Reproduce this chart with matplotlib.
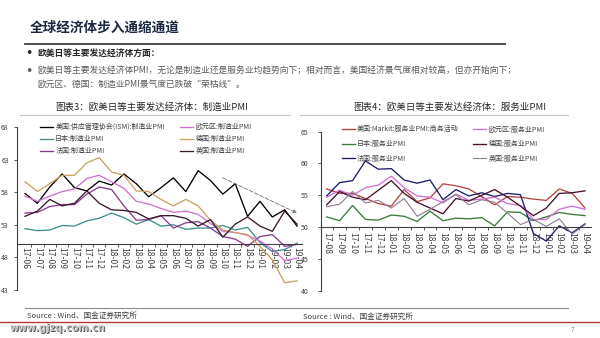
import matplotlib.pyplot as plt
from matplotlib.lines import Line2D

plt.rcParams['font.family'] = ['Noto Sans CJK SC', 'DejaVu Sans']

# 制造业PMI  17-06 ~ 19-04
mfg_months = ['17-06', '17-07', '17-08', '17-09', '17-10', '17-11', '17-12',
              '18-01', '18-02', '18-03', '18-04', '18-05', '18-06', '18-07',
              '18-08', '18-09', '18-10', '18-11', '18-12',
              '19-01', '19-02', '19-03', '19-04']
us_ism = [57.8, 56.3, 58.8, 60.8, 58.7, 58.2, 59.7, 59.1, 60.8, 59.3, 57.3, 58.7,
          60.2, 58.1, 61.3, 59.8, 57.7, 59.3, 54.3, 56.6, 54.2, 55.3, 52.8]
ez_mfg = [57.4, 56.6, 57.4, 58.1, 58.5, 60.1, 60.6, 59.6, 58.6, 56.6, 56.2, 55.5,
          54.9, 55.1, 54.6, 53.2, 52.0, 51.8, 51.4, 50.5, 49.3, 47.5, 47.9]
jp_mfg = [52.4, 52.1, 52.2, 52.9, 52.8, 53.6, 54.0, 54.8, 54.1, 53.1, 53.8, 52.8,
          53.0, 52.3, 52.5, 52.5, 52.9, 52.2, 52.6, 50.3, 48.9, 49.2, 50.2]
de_mfg = [59.6, 58.1, 59.3, 60.6, 60.6, 62.5, 63.3, 61.1, 60.6, 58.2, 58.1, 56.9,
          55.9, 56.9, 55.9, 53.7, 52.2, 51.8, 51.5, 49.7, 47.6, 44.1, 44.4]
fr_mfg = [54.8, 54.9, 55.8, 56.1, 56.1, 57.7, 58.8, 58.4, 55.9, 53.7, 53.8, 54.4,
          52.5, 53.3, 53.5, 52.5, 51.2, 50.8, 49.7, 51.2, 51.5, 49.7, 50.0]
uk_mfg = [54.3, 55.1, 56.9, 55.9, 56.3, 58.2, 56.3, 55.3, 55.2, 54.9, 53.9, 54.4,
          54.4, 54.0, 52.8, 53.8, 51.1, 53.1, 54.2, 52.8, 52.0, 55.1, 53.1]
mfg_trend_x = [16, 22]
mfg_trend_y = [60.2, 54.8]

# 服务业PMI  17-08 ~ 19-04
srv_months = ['17-08', '17-09', '17-10', '17-11', '17-12',
              '18-01', '18-02', '18-03', '18-04', '18-05', '18-06', '18-07',
              '18-08', '18-09', '18-10', '18-11', '18-12',
              '19-01', '19-02', '19-03', '19-04']
us_srv = [56.0, 55.3, 55.3, 54.5, 53.7, 53.3, 55.9, 54.0, 54.6, 56.8, 56.5, 56.0,
          54.8, 53.5, 54.8, 54.7, 54.4, 54.2, 56.0, 55.3, 53.0]
ez_srv = [54.7, 55.8, 55.0, 56.2, 56.6, 58.0, 56.2, 54.9, 54.7, 53.8, 55.2, 54.2,
          54.4, 54.7, 53.7, 53.4, 51.2, 51.2, 52.8, 53.3, 52.8]
jp_srv = [51.6, 51.0, 53.4, 51.2, 51.1, 51.9, 51.7, 50.9, 52.5, 51.0, 51.4, 51.3,
          51.5, 50.2, 52.4, 52.3, 51.0, 51.6, 52.3, 52.0, 51.8]
de_srv = [53.5, 55.6, 54.7, 54.3, 55.8, 57.3, 55.3, 53.9, 53.0, 52.1, 54.5, 54.1,
          55.0, 55.9, 54.7, 53.3, 51.8, 53.0, 55.3, 55.4, 55.7]
fr_srv = [54.9, 57.0, 57.3, 60.4, 59.1, 59.2, 57.4, 56.9, 57.4, 54.3, 55.9, 54.9,
          55.4, 54.8, 55.3, 55.1, 49.0, 47.8, 50.2, 49.1, 50.5]
uk_srv = [53.2, 53.6, 55.6, 53.8, 54.2, 53.0, 54.5, 51.7, 52.8, 54.0, 55.1, 53.5,
          54.3, 53.9, 52.2, 50.4, 51.2, 50.1, 51.3, 48.9, 50.4]

W, H = 600, 338
fig = plt.figure(figsize=(6, 3.38), dpi=100)


def fx(px):
    return px / W


def fy(py):
    return 1 - py / H


# 页面标题和要点
fig.text(fx(30), fy(28), '全球经济体步入通缩通道', fontsize=9.8, fontweight='bold',
         color='#1c2740', va='center')
fig.add_artist(Line2D([fx(25), fx(505)], [fy(44), fy(44)], color='#404040', lw=1.3))
fig.text(fx(25), fy(54), '•', fontsize=9, color='#262626', va='center',
         family='DejaVu Sans')
fig.text(fx(37), fy(54), '欧美日等主要发达经济体方面：', fontsize=6.3,
         fontweight='bold', color='#262626', va='center')
fig.text(fx(25), fy(71), '•', fontsize=9, color='#595959', va='center',
         family='DejaVu Sans')
fig.text(fx(37), fy(71),
         '欧美日等主要发达经济体PMI，无论是制造业还是服务业均趋势向下；相对而言，'
         '美国经济景气度相对较高，但亦开始向下；',
         fontsize=6.3, color='#595959', va='center')
fig.text(fx(37), fy(84), '欧元区、德国：制造业PMI景气度已跌破“荣枯线”。',
         fontsize=6.3, color='#595959', va='center')

# 图表标题
fig.text(fx(152), fy(107), '图表3：欧美日等主要发达经济体：制造业PMI', fontsize=6.8,
         color='#262626', ha='center', va='center')
fig.text(fx(450), fy(107), '图表4：欧美日等主要发达经济体：服务业PMI', fontsize=6.8,
         color='#262626', ha='center', va='center')
fig.add_artist(Line2D([fx(20), fx(290)], [fy(115), fy(115)], color='#c8c8c8', lw=0.8))
fig.add_artist(Line2D([fx(300), fx(568)], [fy(115), fy(115)], color='#c8c8c8', lw=0.8))


def style_axes(ax, months, ylo, yhi, yticks, lab_pad, ylab_pad):
    ax.set_ylim(ylo, yhi)
    ax.set_yticks(yticks)
    ax.set_xticks(range(len(months)))
    ax.set_xticklabels(months)
    ax.set_xticks([i + 0.5 for i in range(len(months) - 1)], minor=True)
    ax.tick_params(axis='x', which='major', length=0, pad=lab_pad, labelrotation=-90,
                   labelsize=6.2, labelcolor='#404040')
    ax.tick_params(axis='x', which='minor', length=2, width=0.6, color='#404040',
                   direction='out')
    ax.tick_params(axis='y', length=2, width=0.6, color='#404040', pad=ylab_pad,
                   labelsize=5, labelcolor='#404040')
    for s in ['top', 'right']:
        ax.spines[s].set_visible(False)
    ax.spines['bottom'].set_position(('data', 50))
    ax.spines['bottom'].set_color('#404040')
    ax.spines['bottom'].set_linewidth(0.8)
    ax.spines['left'].set_color('#404040')
    ax.spines['left'].set_linewidth(0.8)
    ax.set_facecolor('none')


def add_legends(ax, handles, labels, x1, x2, ytop, spacing):
    kw = dict(loc='upper left', bbox_transform=fig.transFigure, frameon=False,
              fontsize=5, handlelength=1.9, handletextpad=0.3, borderpad=0,
              borderaxespad=0, labelspacing=spacing, labelcolor='#404040')
    leg1 = ax.legend(handles[:3], labels[:3], bbox_to_anchor=(fx(x1), fy(ytop)), **kw)
    ax.add_artist(leg1)
    ax.legend(handles[3:], labels[3:], bbox_to_anchor=(fx(x2), fy(ytop)), **kw)


# 图表3：制造业
ax1 = fig.add_axes([fx(17), fy(290), fx(302) - fx(17), fy(127) - fy(290)])
xm = range(len(mfg_months))
lw = 0.95
h_us, = ax1.plot(xm, us_ism, color='#000000', lw=lw)
h_jp, = ax1.plot(xm, jp_mfg, color='#3f8f8c', lw=lw)
h_fr, = ax1.plot(xm, fr_mfg, color='#8a3a8e', lw=lw)
h_ez, = ax1.plot(xm, ez_mfg, color='#d270d2', lw=lw)
h_de, = ax1.plot(xm, de_mfg, color='#c9a264', lw=lw)
h_uk, = ax1.plot(xm, uk_mfg, color='#3a1a2a', lw=lw)
ax1.annotate('', xy=(mfg_trend_x[1], mfg_trend_y[1]),
             xytext=(mfg_trend_x[0], mfg_trend_y[0]),
             arrowprops=dict(arrowstyle='-|>', linestyle=(0, (4, 2)), color='#7f7f7f',
                             lw=0.7, mutation_scale=5, shrinkA=0, shrinkB=0))
ax1.set_xlim(-0.65, 22.4)
style_axes(ax1, mfg_months, 43, 68, [43, 48, 53, 58, 63, 68], 2, 4)
add_legends(ax1, [h_us, h_jp, h_fr, h_ez, h_de, h_uk],
            ['美国:供应管理协会(ISM):制造业PMI', '日本:制造业PMI', '法国:制造业PMI',
             '欧元区:制造业PMI', '德国:制造业PMI', '英国:制造业PMI'],
            40, 180, 123, 0.6)

# 图表4：服务业
ax2 = fig.add_axes([fx(321), fy(290.7), fx(591) - fx(321), fy(131.7) - fy(290.7)])
xs = range(len(srv_months))
g_us, = ax2.plot(xs, us_srv, color='#b8443f', lw=lw)
g_jp, = ax2.plot(xs, jp_srv, color='#3a7a3a', lw=lw)
g_fr, = ax2.plot(xs, fr_srv, color='#1c1c6e', lw=lw)
g_ez, = ax2.plot(xs, ez_srv, color='#d270d2', lw=lw)
g_de, = ax2.plot(xs, de_srv, color='#4a1030', lw=lw)
g_uk, = ax2.plot(xs, uk_srv, color='#8c7c8e', lw=0.8)
ax2.set_xlim(-0.44, 20.46)
style_axes(ax2, srv_months, 40, 65, [40, 45, 50, 55, 60, 65], 3.5, 7)
add_legends(ax2, [g_us, g_jp, g_fr, g_ez, g_de, g_uk],
            ['美国:Markit:服务业PMI:商务活动', '日本:服务业PMI', '法国:服务业PMI',
             '欧元区:服务业PMI', '德国:服务业PMI', '英国:服务业PMI'],
            341.7, 473, 125.5, 0.95)

# 来源与页脚
fig.add_artist(Line2D([fx(25), fx(568)], [fy(307.5), fy(307.5)], color='#8c8c8c', lw=0.8))
fig.text(fx(27), fy(315.5), 'Source : Wind、国金证券研究所', fontsize=5.5,
         style='italic', color='#404040', va='center')
fig.text(fx(303), fy(316.5), 'Source : Wind、国金证券研究所', fontsize=5.5,
         style='italic', color='#404040', va='center')
fig.add_artist(Line2D([0, 1], [fy(322), fy(322)], color='#b03a35', lw=1.0))
fig.text(fx(10.6), fy(328.6), 'www.gjzq.com.cn', fontsize=7, fontweight='bold',
         family='DejaVu Sans', color='#5a5a5a', va='center')
fig.text(fx(10), fy(328), 'www.gjzq.com.cn', fontsize=7, fontweight='bold',
         family='DejaVu Sans', color='#c8c8c8', va='center')
fig.text(fx(571), fy(330), '7', fontsize=5, color='#7f7f7f', va='center')

fig.savefig('out.png', dpi=100, facecolor='white')
